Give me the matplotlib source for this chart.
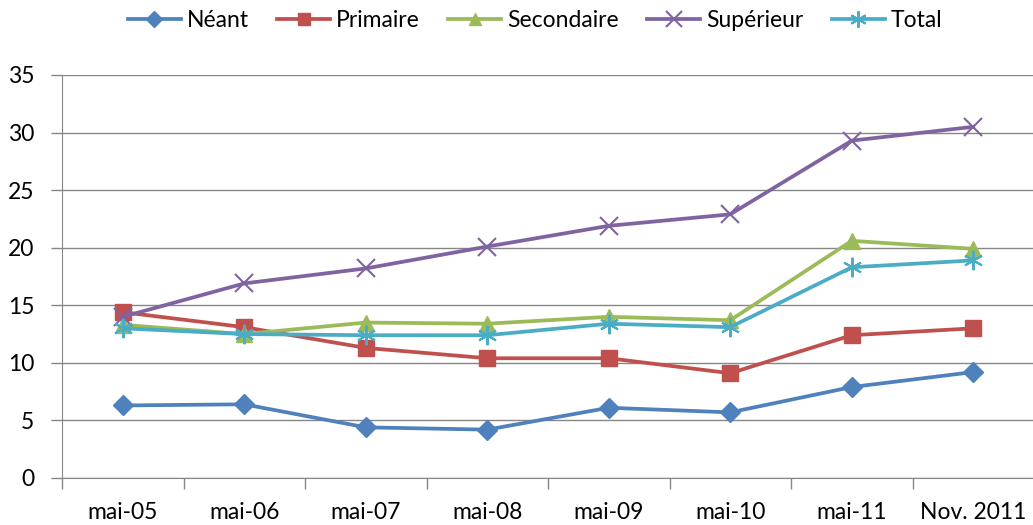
#!/usr/bin/env python
"""Education-level series, mai-05 to Nov. 2011 (out.png)."""

import matplotlib

matplotlib.use("Agg")
import matplotlib.pyplot as plt
import numpy as np

plt.rcParams["font.family"] = ["Lato", "DejaVu Sans"]

periods = ["mai-05", "mai-06", "mai-07", "mai-08", "mai-09", "mai-10", "mai-11", "Nov. 2011"]
neant = [6.3, 6.4, 4.4, 4.2, 6.1, 5.7, 7.9, 9.2]
primaire = [14.4, 13.1, 11.3, 10.4, 10.4, 9.1, 12.4, 13.0]
secondaire = [13.3, 12.5, 13.5, 13.4, 14.0, 13.7, 20.6, 19.9]
superieur = [14.0, 16.9, 18.2, 20.1, 21.9, 22.9, 29.3, 30.5]
total = [13.0, 12.5, 12.4, 12.4, 13.4, 13.1, 18.3, 18.9]

series = [
    ("Néant", neant, "#4F81BD", "D", 10),
    ("Primaire", primaire, "#C0504D", "s", 11),
    ("Secondaire", secondaire, "#9BBB59", "^", 11),
    ("Supérieur", superieur, "#8064A2", "x", 13),
    ("Total", total, "#4BACC6", (6, 2, 0), 14),
]

fig = plt.figure(figsize=(10.33, 5.25), dpi=100, facecolor="white")
ax = fig.add_axes([62 / 1033, 47 / 525, 972 / 1033, 403 / 525])

x = np.arange(len(periods))
for name, vals, col, mk, ms in series:
    thin = mk == "x" or isinstance(mk, tuple)
    ax.plot(x, vals, color=col, lw=2.7, marker=mk, ms=ms, mec=col, mew=1.5 if thin else 1,
            label=name, clip_on=False)

ax.set_ylim(0, 35)
ax.set_yticks(np.arange(0, 36, 5))
ax.set_xlim(-0.5, len(periods) - 0.5)
ax.set_xticks(x)
ax.set_xticklabels(periods)
ax.set_xticks(np.arange(-0.5, len(periods), 1), minor=True)
ax.tick_params(axis="x", which="major", length=0, pad=17, labelsize=16.5)
ax.tick_params(axis="x", which="minor", length=8, color="#868686", width=1)
ax.tick_params(axis="y", length=8, color="#868686", width=1, labelsize=16.5, pad=12)
ax.grid(axis="y", color="#868686", lw=1)
ax.set_axisbelow(True)
for side in ("top", "right"):
    ax.spines[side].set_visible(False)
for side in ("left", "bottom"):
    ax.spines[side].set_color("#868686")

ax.legend(loc="center", bbox_to_anchor=(473 / 972, (525 - 21 - 47) / 403), ncol=5, frameon=False,
          fontsize=16.5, handlelength=2.3, columnspacing=1.25, handletextpad=0.26, markerscale=0.85)

fig.savefig("out.png", dpi=100, facecolor="white")
